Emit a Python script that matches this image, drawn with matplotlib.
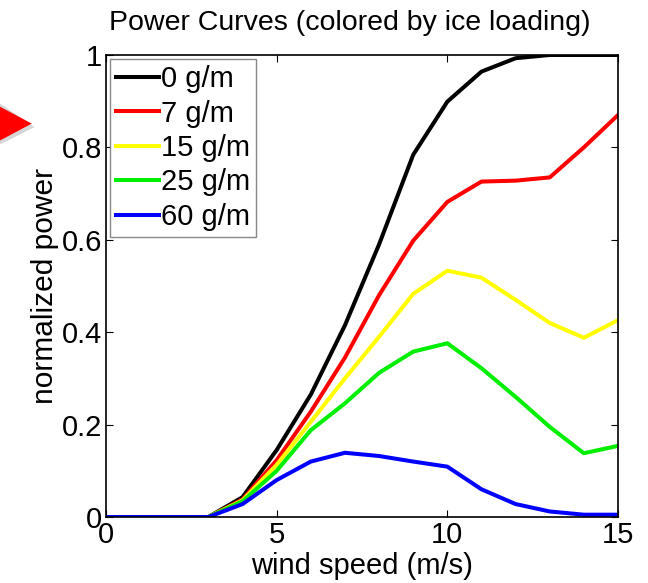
import matplotlib
matplotlib.use("Agg")
import matplotlib.pyplot as plt
from matplotlib.patches import Polygon

plt.rcParams["font.family"] = ["Liberation Sans", "DejaVu Sans"]

wind = list(range(16))
p_0 = [0, 0, 0, 0, 0.043, 0.145, 0.265, 0.415, 0.59, 0.784, 0.899, 0.964, 0.993, 1.0, 1.0, 1.0]
p_7 = [0, 0, 0, 0, 0.038, 0.123, 0.228, 0.345, 0.48, 0.598, 0.682, 0.726, 0.728, 0.735, 0.80, 0.87]
p_15 = [0, 0, 0, 0, 0.036, 0.113, 0.206, 0.30, 0.39, 0.483, 0.533, 0.518, 0.47, 0.42, 0.388, 0.426]
p_25 = [0, 0, 0, 0, 0.034, 0.10, 0.188, 0.246, 0.312, 0.358, 0.376, 0.322, 0.26, 0.195, 0.138, 0.154]
p_60 = [0, 0, 0, 0, 0.028, 0.08, 0.12, 0.139, 0.132, 0.12, 0.109, 0.06, 0.028, 0.012, 0.005, 0.005]

series = [p_0, p_7, p_15, p_25, p_60]
labels = ["0 g/m", "7 g/m", "15 g/m", "25 g/m", "60 g/m"]
colors = ["#000000", "#ff0000", "#ffff00", "#00ee00", "#0000ff"]

fig = plt.figure(figsize=(6.48, 5.83), dpi=100)
ax = fig.add_axes([0.1636, 0.1132, 0.7901, 0.7925])

for y, lab, c in zip(series, labels, colors):
    ax.plot(wind, y, color=c, lw=2.9, label=lab)

ax.set_xlim(0, 15)
ax.set_ylim(0, 1)
ax.set_xticks([0, 5, 10, 15])
ax.set_yticks([0, 0.2, 0.4, 0.6, 0.8, 1.0])
ax.set_yticklabels(["0", "0.2", "0.4", "0.6", "0.8", "1"])
ax.tick_params(direction="in", top=True, right=True, labelsize=21, length=5)
ax.tick_params(axis="x", pad=3)
ax.tick_params(axis="y", pad=3)
for s in ax.spines.values():
    s.set_linewidth(1.2)

ax.set_title("Power Curves (colored by ice loading)", fontsize=20.5, pad=18, x=0.476)
ax.set_xlabel("wind speed (m/s)", fontsize=21, labelpad=2)
ax.set_ylabel("normalized power", fontsize=21.5, labelpad=2)

leg = ax.legend(loc="upper left", fontsize=21, handlelength=1.45, handletextpad=0.1,
                labelspacing=0.22, borderpad=0.2, borderaxespad=0.15,
                fancybox=False, framealpha=1)
leg.get_frame().set_edgecolor("#888888")
leg.get_frame().set_linewidth(1.0)

# red arrow cut off at the left edge
tri_shadow = Polygon([(0.0, 0.8225), (0.053, 0.782), (0.0, 0.752)], closed=True,
                     transform=fig.transFigure, facecolor="#bbbbbb", edgecolor="none",
                     alpha=0.6)
tri = Polygon([(0.0, 0.817), (0.049, 0.788), (0.0, 0.759)], closed=True,
              transform=fig.transFigure, facecolor="#ff0000", edgecolor="none")
fig.patches.extend([tri_shadow, tri])

fig.savefig("out.png", dpi=100)
